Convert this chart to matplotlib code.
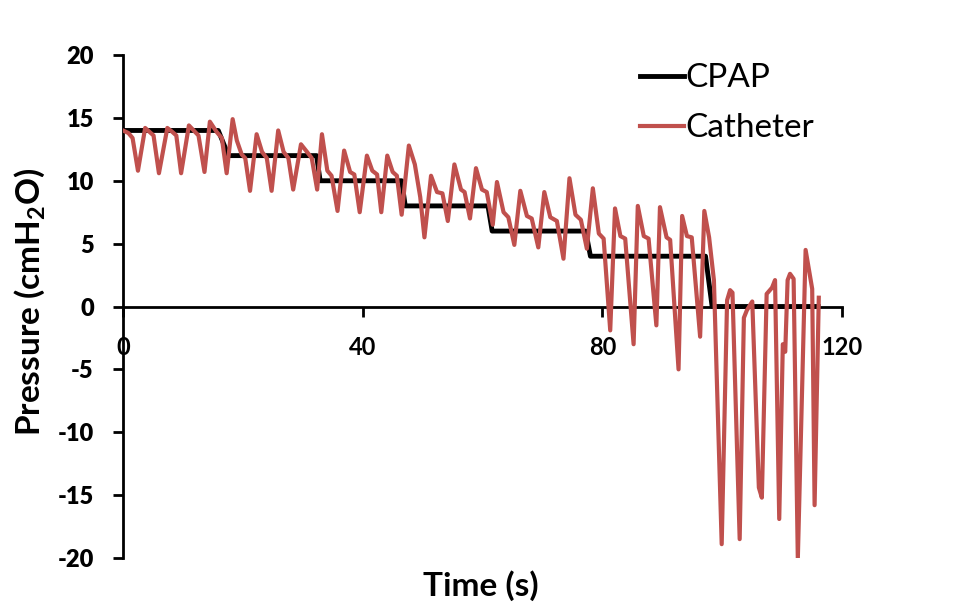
import matplotlib
matplotlib.use("Agg")
import matplotlib.pyplot as plt

plt.rcParams['font.family'] = ['Lato', 'DejaVu Sans']
plt.rcParams['font.weight'] = 'bold'
plt.rcParams['axes.unicode_minus'] = False
plt.rcParams['mathtext.fontset'] = 'custom'
plt.rcParams['mathtext.rm'] = 'Lato:bold'
plt.rcParams['mathtext.default'] = 'rm'

# CPAP set pressure (step changes)
cpap_t = [0, 15.9, 17.6, 32.3, 32.9, 46.5, 47.1, 60.9, 61.6, 77.2, 78.0, 97.2, 98.3, 116.0]
cpap_p = [14, 14, 12, 12, 10, 10, 8, 8, 6, 6, 4, 4, 0, 0]

# catheter pressure trace
cath_t = [0.0, 0.9, 1.6, 2.5, 3.7, 4.4, 5.1, 6.0, 7.4, 8.2, 8.9, 9.7,
          11.0, 11.8, 12.6, 13.6, 14.5, 15.6, 16.5, 17.3, 18.3, 19.0, 19.8, 20.4,
          21.2, 22.3, 23.2, 24.0, 24.8, 25.9, 26.8, 27.6, 28.4, 29.7, 30.7, 31.5,
          32.4, 33.2, 34.1, 34.8, 35.8, 36.9, 37.9, 38.6, 39.5, 40.7, 41.6, 42.4,
          43.1, 44.1, 45.0, 45.7, 46.5, 47.7, 48.7, 49.6, 50.3, 51.4, 52.4, 53.3,
          54.2, 55.3, 56.4, 57.0, 57.9, 58.9, 59.9, 60.7, 61.7, 62.4, 63.5, 64.3,
          65.3, 66.3, 67.4, 68.2, 69.3, 70.3, 71.3, 72.4, 73.5, 74.5, 75.5, 76.4,
          77.4, 78.4, 79.4, 80.2, 81.3, 82.1, 83.0, 83.8, 85.2, 85.9, 86.9, 87.7,
          89.0, 89.6, 90.7, 91.3, 92.7, 93.3, 94.1, 94.9, 96.3, 97.0, 97.8, 98.6,
          99.9, 100.8, 101.3, 101.7, 102.9, 103.6, 104.1, 105.0, 106.1, 106.6, 107.4, 108.3,
          108.8, 109.5, 110.1, 110.5, 110.9, 111.3, 111.9, 112.6, 113.9, 115.0, 115.4, 116.1]
cath_p = [14.0, 13.8, 13.4, 10.8, 14.2, 13.9, 13.6, 10.6, 14.2, 13.9, 13.6, 10.6,
          14.4, 14.0, 13.6, 10.7, 14.7, 13.9, 13.4, 10.6, 14.9, 13.2, 12.1, 11.8,
          9.2, 13.7, 12.3, 11.8, 9.2, 14.0, 12.3, 11.8, 9.3, 12.9, 12.3, 11.8,
          9.3, 13.7, 10.8, 10.4, 7.6, 12.4, 10.7, 10.5, 7.5, 12.0, 10.8, 10.5,
          7.5, 12.0, 10.7, 10.4, 7.3, 12.8, 11.3, 8.7, 5.5, 10.4, 9.1, 9.0,
          6.8, 11.3, 9.3, 9.1, 7.0, 11.0, 9.3, 9.1, 6.5, 9.9, 7.5, 7.1,
          4.9, 9.2, 7.2, 7.0, 4.7, 9.1, 7.1, 6.8, 3.8, 10.2, 7.3, 6.9,
          4.6, 9.4, 5.8, 5.4, -1.9, 7.8, 5.6, 5.4, -3.0, 8.0, 5.6, 5.4,
          -1.5, 7.9, 5.5, 5.3, -5.0, 7.2, 5.6, 5.5, -2.4, 7.6, 5.5, 2.1,
          -18.9, 0.5, 1.3, 1.1, -18.5, -0.9, -0.3, 0.4, -14.4, -15.2, 1.0, 1.5,
          2.1, -16.9, -3.0, -3.6, 2.1, 2.6, 2.2, -20.1, 4.5, 1.4, -15.8, 0.7]

x_ticks = [0, 40, 80, 120]
y_ticks = [-20, -15, -10, -5, 0, 5, 10, 15, 20]

fig = plt.figure(figsize=(9.57, 6.02), dpi=100)
ax = fig.add_axes([0.1285, 0.0731, 0.7515, 0.8355])

ax.plot(cpap_t, cpap_p, color='black', lw=3.5, label='CPAP', zorder=2)
ax.plot(cath_t, cath_p, color='#c0504d', lw=3.0, label='Catheter', zorder=3,
        solid_joinstyle='round')

ax.set_xlim(0, 120)
ax.set_ylim(-20, 20)
ax.set_xticks(x_ticks)
ax.set_xticklabels([str(v) for v in x_ticks], fontweight='heavy')
ax.set_yticks(y_ticks)
ax.set_yticklabels([str(v) for v in y_ticks], fontweight='heavy')

for s in ['top', 'right']:
    ax.spines[s].set_visible(False)
ax.spines['bottom'].set_position(('data', 0))
ax.spines['left'].set_linewidth(2)
ax.spines['bottom'].set_linewidth(2)

ax.tick_params(axis='both', direction='out', length=7, width=2,
               labelsize=17, pad=14)

ax.set_xlabel('Time (s)', fontsize=24, fontweight='bold')
ax.xaxis.set_label_coords(0.498, -0.025)
ax.set_ylabel('Pressure (cmH$_2$O)', fontsize=24, fontweight='bold')
ax.yaxis.set_label_coords(-0.106, 0.51)

ax.legend(loc='upper left', bbox_to_anchor=(0.669, 0.895),
          bbox_transform=fig.transFigure, frameon=False,
          prop={'size': 24, 'weight': 'normal'},
          handlelength=1.3, handletextpad=0.05, labelspacing=0.6,
          borderpad=0, borderaxespad=0)

fig.savefig('out.png', dpi=100)
